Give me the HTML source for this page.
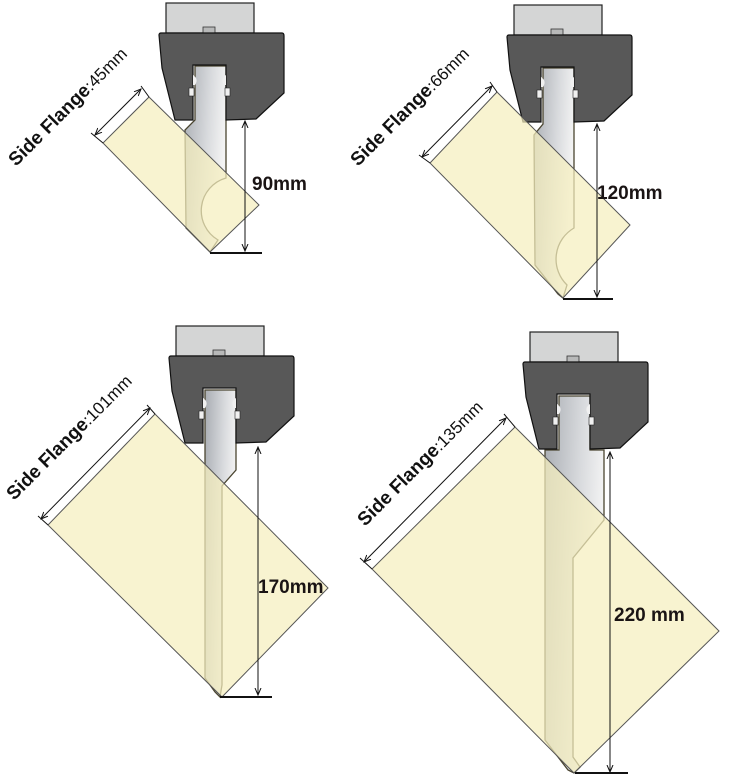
<!DOCTYPE html>
<html><head><meta charset="utf-8"><style>
html,body{margin:0;padding:0;background:#fff}
svg{display:block}
.t{font-family:"Liberation Sans",sans-serif;font-weight:bold;font-size:19px;fill:#111}
.n{font-weight:normal;font-size:17px}
.d{font-family:"Liberation Sans",sans-serif;font-weight:bold;font-size:19px;fill:#1a1414}
</style></head><body>
<svg width="740" height="780" viewBox="0 0 740 780" xmlns="http://www.w3.org/2000/svg">
<defs>
<linearGradient id="pg" x1="0" y1="0" x2="1" y2="0.3">
<stop offset="0" stop-color="#a9adb3"/><stop offset="0.6" stop-color="#d8dadd"/><stop offset="1" stop-color="#f4f4f4"/>
</linearGradient>
<marker id="ar" markerWidth="8" markerHeight="8" refX="7" refY="4" orient="auto-start-reverse" markerUnits="userSpaceOnUse">
<path d="M0,1 L7,4 L0,7" fill="none" stroke="#111" stroke-width="1"/>
</marker>
<g id="hold">
<rect x="7" y="-30" width="88" height="30" fill="#d4d5d5" stroke="#222" stroke-width="1.2"/>
<rect x="44" y="-6" width="12" height="6" fill="#b8b9b9" stroke="#333" stroke-width="0.8"/>
<path d="M0,2 Q0,0 2,0 L123,0 Q125,0 125,3 L125,60 L97,86 L67,87 L67,32 L34,32 L34,87 L16,87 L3,35 Z" fill="#585858" stroke="#111" stroke-width="1.2"/>
<rect x="30" y="55" width="5" height="8" fill="#f0f0f0" stroke="#222" stroke-width="0.6"/>
<rect x="66" y="55" width="5" height="8" fill="#f0f0f0" stroke="#222" stroke-width="0.6"/>
<path d="M34,42 Q40,46 36,52 L34,52 Z M67,42 Q61,46 65,52 L67,52 Z" fill="#f0f0f0"/>
</g>
</defs>

<g fill="url(#pg)" stroke="#4a4530" stroke-width="1.3">
<path d="M195,66 L226,66 L226,178 A34,34 0 0 0 218,240 L210,252 L206,248 L186,228 L185,130 L195,120 Z"/>
<path d="M543,68 L574,68 L574,228 A36,36 0 0 0 567,285 L563,298 L558,294 L535,265 L534,135 L543,124 Z"/>
<path d="M205,390 L236,390 L236,470 L222,486 L222,685 L220,697 L215,692 L205,678 L205,443 Z"/>
<path d="M559,396 L590,396 L590,450 L604,450 L604,520 L573,558 L573,757 L580,767 L574,773 L568,770 L545,740 L545,450 L559,450 Z"/>
</g>

<use href="#hold" transform="translate(159,33)"/>
<use href="#hold" transform="translate(507,35)"/>
<use href="#hold" transform="translate(169,356)"/>
<use href="#hold" transform="translate(523,362)"/>

<g fill="#f5efbe" fill-opacity="0.72" stroke="#555" stroke-width="1">
<polygon points="149,97 259,205 210,252 103,143"/>
<polygon points="497,92 630,225 563,298 430,163"/>
<polygon points="155,414 328,588 222,697 48,525"/>
<polygon points="515,427 719,631 574,773 372,569"/>
</g>

<g stroke="#111" stroke-width="1" fill="none">
<line x1="149" y1="97" x2="141" y2="86"/><line x1="103" y1="143" x2="91" y2="133"/>
<line x1="95" y1="135" x2="141" y2="89" marker-start="url(#ar)" marker-end="url(#ar)"/>
<line x1="497" y1="92" x2="490" y2="82"/><line x1="430" y1="163" x2="419" y2="155"/>
<line x1="422" y1="157" x2="492" y2="86" marker-start="url(#ar)" marker-end="url(#ar)"/>
<line x1="155" y1="414" x2="147" y2="405"/><line x1="48" y1="525" x2="38" y2="516"/>
<line x1="41" y1="519" x2="150" y2="408" marker-start="url(#ar)" marker-end="url(#ar)"/>
<line x1="515" y1="427" x2="504" y2="414"/><line x1="372" y1="569" x2="360" y2="558"/>
<line x1="364" y1="562" x2="506" y2="418" marker-start="url(#ar)" marker-end="url(#ar)"/>
<line x1="245" y1="121" x2="245" y2="251" marker-start="url(#ar)" marker-end="url(#ar)"/>
<line x1="597" y1="124" x2="597" y2="297" marker-start="url(#ar)" marker-end="url(#ar)"/>
<line x1="258" y1="447" x2="258" y2="695" marker-start="url(#ar)" marker-end="url(#ar)"/>
<line x1="610" y1="452" x2="610" y2="772" marker-start="url(#ar)" marker-end="url(#ar)"/>
</g>
<g stroke="#111" stroke-width="2">
<line x1="210" y1="253" x2="262" y2="253"/>
<line x1="563" y1="299" x2="613" y2="299"/>
<line x1="220" y1="697" x2="272" y2="697"/>
<line x1="575" y1="773" x2="628" y2="773"/>
</g>

<text class="d" x="252" y="190">90mm</text>
<text class="d" x="597" y="199">120mm</text>
<text class="d" x="258" y="593">170mm</text>
<text class="d" x="614" y="621">220 mm</text>

<text class="t" transform="translate(16,167) rotate(-45)">Side Flange<tspan class="n">:45mm</tspan></text>
<text class="t" transform="translate(358,167) rotate(-45)">Side Flange<tspan class="n">:66mm</tspan></text>
<text class="t" transform="translate(14,501) rotate(-45)">Side Flange<tspan class="n">:101mm</tspan></text>
<text class="t" transform="translate(365,527) rotate(-45)">Side Flange<tspan class="n">:135mm</tspan></text>
</svg>
</body></html>
